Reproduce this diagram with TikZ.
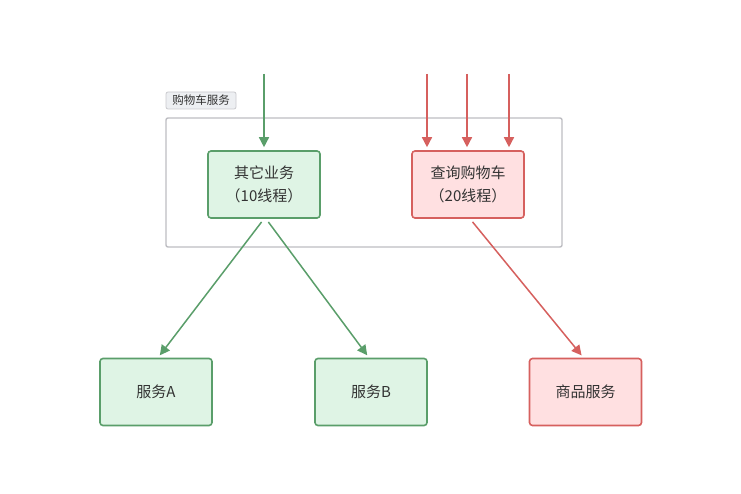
\documentclass[tikz,border=0pt]{standalone}
\usepackage{fontspec}
\setmainfont{Noto Sans CJK SC}
\usetikzlibrary{arrows.meta}
\definecolor{gstroke}{HTML}{5A9E6A}
\definecolor{gfill}{HTML}{DFF4E5}
\definecolor{rstroke}{HTML}{D6605E}
\definecolor{rfill}{HTML}{FFE0E1}
\definecolor{cstroke}{HTML}{BDBDC2}
\definecolor{lfill}{HTML}{EDEFF2}
\definecolor{tcol}{HTML}{333333}
\tikzset{
  gbox/.style={draw=gstroke, fill=gfill, line width=1.6pt, rounded corners=3pt, minimum width=112pt, minimum height=67pt, inner sep=0pt, align=center, text=tcol, font=\fontsize{15}{23}\selectfont},
  rbox/.style={gbox, draw=rstroke, fill=rfill},
  garrow/.style={draw=gstroke, line width=1.5pt, -{Triangle[length=10pt,width=10pt]}},
  rarrow/.style={garrow, draw=rstroke, -{Triangle[length=10pt,width=10pt]}},
}
\begin{document}
\begin{tikzpicture}[x=1pt, y=-1pt]
\useasboundingbox[fill=white] (0,0) rectangle (741,494);
% container
\node[draw=cstroke, line width=1.4pt, rounded corners=2pt, minimum width=396pt, minimum height=129pt, inner sep=0pt] (cont) at (364,182.5) {};
\node[draw=cstroke!80, fill=lfill, line width=0.8pt, rounded corners=2pt, minimum width=70pt, minimum height=17pt, inner sep=0pt, text=tcol, font=\fontsize{11.5}{13}\selectfont] (lab) at (201,100.5) {购物车服务};
% boxes
\node[gbox] (b1) at (264,184.5) {其它业务\\（10线程）};
\node[rbox] (b2) at (468,184.5) {查询购物车\\（20线程）};
\node[gbox] (sa) at (156,392) {服务A};
\node[gbox] (sb) at (371,392) {服务B};
\node[rbox] (sc) at (585.5,392) {商品服务};
% entry coordinates
\coordinate (g0) at (264,74);
\coordinate (r1) at (427,74);
\coordinate (r2) at (467,74);
\coordinate (r3) at (509,74);
\draw[garrow, shorten >=3pt] (g0) -- (g0 |- b1.north);
\draw[rarrow, shorten >=3pt] (r1) -- (r1 |- b2.north);
\draw[rarrow, shorten >=3pt] (r2) -- (r2 |- b2.north);
\draw[rarrow, shorten >=3pt] (r3) -- (r3 |- b2.north);
% outgoing
\draw[garrow, shorten <=4pt, shorten >=3pt] (b1.south) -- ([xshift=2pt]sa.north);
\draw[garrow, shorten <=4pt, shorten >=3pt] ([xshift=2pt]b1.south) -- ([xshift=-2pt]sb.north);
\draw[rarrow, shorten <=4pt, shorten >=3pt] ([xshift=2pt]b2.south) -- ([xshift=-2pt]sc.north);
\end{tikzpicture}
\end{document}
